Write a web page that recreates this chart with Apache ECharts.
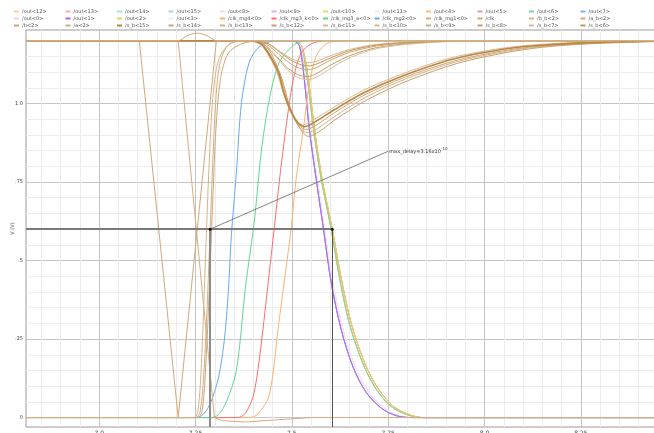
<!DOCTYPE html>
<html>
<head>
<meta charset="utf-8">
<script src="https://cdn.jsdelivr.net/npm/echarts@6/dist/echarts.min.js"></script>
<style>
html, body { margin: 0; padding: 0; background: #fff; }
#chart { width: 654px; height: 433px; }
</style>
</head>
<body>
<div id="chart"></div>
<script>
// legend rows (12 per row)
var row1Names = ['/out<12>', '/out<13>', '/out<14>', '/out<15>', '/out<8>', '/out<9>', '/out<10>', '/out<11>', '/out<4>', '/out<5>', '/out<6>', '/out<7>'];
var row2Names = ['/out<0>', '/out<1>', '/out<2>', '/out<3>', '/clk_mg4<0>', '/clk_mg3_k<0>', '/clk_mg3_a<0>', '/clk_mg2<0>', '/clk_mg1<0>', '/clk', '/b_b<2>', '/a_b<2>'];
var row3Names = ['/b<2>', '/a<2>', '/s_b<15>', '/s_b<14>', '/s_b<13>', '/s_b<12>', '/s_b<11>', '/s_b<10>', '/s_b<9>', '/s_b<8>', '/s_b<7>', '/s_b<6>'];

// waveforms [time (ns), volts]
var clkWave = [[6.81, 1.2], [7.104, 1.2], [7.205, 0], [7.304, 1.2], [8.445, 1.2]];
var clkMg1Wave = [[6.81, 1.2], [7.205, 1.2], [7.299, 0], [7.32, -0.01], [7.38, -0.014], [7.45, -0.008], [7.55, 0], [8.445, 0]];
var humpWave = [[6.81, 1.2], [7.205, 1.2], [7.228, 1.216], [7.255, 1.224], [7.282, 1.215], [7.304, 1.2], [8.445, 1.2]];
var riseA = [[6.81, 0], [7.25, 0], [7.262, 0.02], [7.272, 0.15], [7.28, 0.35], [7.288, 0.6], [7.295, 0.82], [7.302, 1.0], [7.312, 1.12], [7.33, 1.18], [7.36, 1.2], [8.445, 1.2]];
var riseB = [[6.81, 0], [7.255, 0], [7.268, 0.03], [7.278, 0.2], [7.287, 0.45], [7.295, 0.7], [7.303, 0.92], [7.315, 1.08], [7.335, 1.16], [7.37, 1.19], [7.42, 1.2], [8.445, 1.2]];
var riseC = [[6.81, 0], [7.245, 0], [7.258, 0.04], [7.268, 0.25], [7.277, 0.55], [7.285, 0.8], [7.295, 1.02], [7.31, 1.14], [7.34, 1.19], [7.4, 1.2], [8.445, 1.2]];

var mg2Wave = [[6.81, 0], [7.25, 0], [7.27, 0.01], [7.29, 0.05], [7.31, 0.13], [7.325, 0.25], [7.335, 0.4], [7.343, 0.58], [7.356, 0.78], [7.369, 1.0], [7.389, 1.13], [7.415, 1.18], [7.46, 1.2], [8.445, 1.2]];
var mg3aWave = [[6.81, 0], [7.29, 0], [7.31, 0.01], [7.33, 0.05], [7.356, 0.15], [7.38, 0.42], [7.402, 0.62], [7.421, 0.85], [7.441, 1.01], [7.467, 1.13], [7.504, 1.185], [7.54, 1.2], [8.445, 1.2]];
var mg3kWave = [[6.81, 0], [7.36, 0], [7.38, 0.015], [7.40, 0.07], [7.415, 0.18], [7.434, 0.38], [7.454, 0.6], [7.472, 0.8], [7.491, 0.98], [7.506, 1.09], [7.524, 1.16], [7.55, 1.19], [7.59, 1.2], [8.445, 1.2]];
var mg4Wave = [[6.81, 0], [7.39, 0], [7.41, 0.01], [7.441, 0.07], [7.465, 0.29], [7.482, 0.45], [7.498, 0.6], [7.511, 0.76], [7.53, 0.92], [7.545, 1.06], [7.563, 1.15], [7.589, 1.19], [7.63, 1.2], [8.445, 1.2]];

var fallA = [[6.81, 1.2], [7.50, 1.2], [7.519, 1.185], [7.532, 1.08], [7.545, 0.92], [7.563, 0.76], [7.582, 0.6], [7.602, 0.43], [7.628, 0.28], [7.659, 0.16], [7.693, 0.08], [7.732, 0.03], [7.771, 0.006], [7.81, 0], [8.445, 0]];
var fallA2 = [[6.81, 1.2], [7.503, 1.2], [7.522, 1.183], [7.535, 1.075], [7.548, 0.915], [7.566, 0.755], [7.585, 0.6], [7.606, 0.43], [7.633, 0.28], [7.665, 0.16], [7.70, 0.08], [7.74, 0.03], [7.778, 0.006], [7.815, 0], [8.445, 0]];
var fallB = [[6.81, 1.2], [7.505, 1.2], [7.524, 1.18], [7.540, 1.08], [7.556, 0.92], [7.576, 0.76], [7.602, 0.6], [7.623, 0.45], [7.649, 0.3], [7.685, 0.17], [7.719, 0.09], [7.758, 0.035], [7.797, 0.01], [7.836, 0], [8.445, 0]];
var fallB2 = [[6.81, 1.2], [7.508, 1.2], [7.527, 1.178], [7.543, 1.075], [7.559, 0.915], [7.579, 0.755], [7.605, 0.6], [7.627, 0.45], [7.654, 0.3], [7.69, 0.17], [7.725, 0.09], [7.764, 0.035], [7.803, 0.01], [7.84, 0], [8.445, 0]];

var deep1 = [[6.81, 1.2], [7.39, 1.2], [7.42, 1.19], [7.439, 1.16], [7.465, 1.10], [7.48, 1.03], [7.498, 0.975], [7.515, 0.94], [7.532, 0.926], [7.558, 0.94], [7.61, 0.98], [7.688, 1.035], [7.784, 1.086], [7.914, 1.14], [8.044, 1.172], [8.129, 1.184], [8.251, 1.193], [8.445, 1.199]];
var deep2 = [[6.81, 1.2], [7.39, 1.2], [7.42, 1.188], [7.44, 1.155], [7.465, 1.09], [7.482, 1.02], [7.50, 0.965], [7.518, 0.93], [7.536, 0.917], [7.562, 0.93], [7.61, 0.97], [7.69, 1.028], [7.79, 1.082], [7.92, 1.135], [8.05, 1.168], [8.14, 1.182], [8.26, 1.192], [8.445, 1.198]];
var deep3 = [[6.81, 1.2], [7.395, 1.2], [7.425, 1.187], [7.445, 1.152], [7.47, 1.085], [7.488, 1.01], [7.505, 0.955], [7.522, 0.92], [7.54, 0.907], [7.566, 0.92], [7.615, 0.962], [7.695, 1.022], [7.795, 1.078], [7.925, 1.132], [8.055, 1.166], [8.145, 1.181], [8.265, 1.191], [8.445, 1.198]];
var deep4 = [[6.81, 1.2], [7.40, 1.2], [7.43, 1.186], [7.45, 1.15], [7.474, 1.08], [7.492, 1.0], [7.51, 0.945], [7.527, 0.91], [7.543, 0.895], [7.57, 0.91], [7.62, 0.955], [7.70, 1.015], [7.80, 1.072], [7.93, 1.128], [8.06, 1.163], [8.15, 1.179], [8.27, 1.19], [8.445, 1.197]];
var deep5 = [[6.81, 1.2], [7.385, 1.2], [7.415, 1.19], [7.435, 1.162], [7.46, 1.105], [7.476, 1.04], [7.494, 0.98], [7.512, 0.945], [7.528, 0.932], [7.552, 0.945], [7.605, 0.985], [7.682, 1.04], [7.778, 1.09], [7.905, 1.143], [8.035, 1.174], [8.12, 1.186], [8.24, 1.194], [8.445, 1.2]];

var shallow1 = [[6.81, 1.2], [7.41, 1.2], [7.44, 1.19], [7.47, 1.165], [7.50, 1.142], [7.525, 1.132], [7.545, 1.13], [7.565, 1.135], [7.60, 1.152], [7.65, 1.172], [7.72, 1.188], [7.82, 1.196], [7.96, 1.2], [8.445, 1.2]];
var shallow2 = [[6.81, 1.2], [7.405, 1.2], [7.435, 1.188], [7.465, 1.158], [7.495, 1.128], [7.52, 1.112], [7.542, 1.108], [7.565, 1.115], [7.60, 1.138], [7.65, 1.163], [7.72, 1.183], [7.82, 1.194], [7.97, 1.2], [8.445, 1.2]];
var shallow3 = [[6.81, 1.2], [7.40, 1.2], [7.43, 1.186], [7.46, 1.15], [7.49, 1.112], [7.515, 1.092], [7.54, 1.086], [7.562, 1.094], [7.60, 1.122], [7.65, 1.152], [7.72, 1.178], [7.83, 1.193], [7.98, 1.2], [8.445, 1.2]];
var shallow4 = [[6.81, 1.2], [7.40, 1.2], [7.43, 1.185], [7.46, 1.147], [7.49, 1.105], [7.515, 1.083], [7.542, 1.076], [7.565, 1.085], [7.605, 1.115], [7.655, 1.148], [7.725, 1.176], [7.835, 1.192], [7.99, 1.2], [8.445, 1.2]];
var shallow5 = [[6.81, 1.2], [7.41, 1.2], [7.44, 1.189], [7.47, 1.162], [7.50, 1.136], [7.525, 1.123], [7.545, 1.12], [7.565, 1.126], [7.60, 1.145], [7.65, 1.168], [7.72, 1.186], [7.82, 1.195], [7.96, 1.2], [8.445, 1.2]];

// delay measurement: 50% of clk edge -> 50% of slowest output
var delayStart = [7.288, 0.6];
var delayEnd = [7.605, 0.6];
var delayLabelAt = [7.75, 0.848];

var chart = echarts.init(document.getElementById('chart'), null, {renderer: 'canvas'});

function wave(name, data, color, width, smooth) {
    return {
        name: name,
        type: 'line',
        data: data,
        showSymbol: false,
        symbol: 'none',
        smooth: smooth ? 0.3 : false,
        lineStyle: {color: color, width: width},
        itemStyle: {color: color},
        emphasis: {disabled: true},
        silent: true,
        animation: false
    };
}

// outputs first, then clock merges, tan signals on top
var series = [
    wave('/out<12>', fallB, '#ffcf9e', 1, true),
    wave('/out<13>', fallB2, '#ffaaaa', 1, true),
    wave('/out<14>', fallB, '#a6eac0', 1, true),
    wave('/out<10>', fallB2, '#ecd85a', 1, true),
    wave('/out<4>', fallB, '#ffb778', 1, true),
    wave('/out<5>', fallB2, '#ff8f8f', 1, true),
    wave('/out<6>', fallB, '#78dca2', 1, true),
    wave('/out<2>', fallB2, '#e6d062', 1, true),
    wave('/out<8>', fallA2, '#ffd3ea', 1, true),
    wave('/out<11>', fallA2, '#ecebf8', 1, true),
    wave('/out<0>', fallA2, '#ffc8e6', 1, true),
    wave('/out<3>', fallA2, '#f0ecf8', 1, true),
    wave('/out<15>', fallA, '#a9cffc', 1, true),
    wave('/out<7>', fallA, '#7ab5fb', 1, true),
    wave('/out<9>', fallA, '#d9aef2', 1, true),
    wave('/out<1>', fallA, '#a868e6', 1, true),
    wave('/clk_mg4<0>', mg4Wave, '#ffb070', 1, true),
    wave('/clk_mg3_k<0>', mg3kWave, '#ff6b6b', 1, true),
    wave('/clk_mg3_a<0>', mg3aWave, '#5fd693', 1, true),
    wave('/clk_mg2<0>', mg2Wave, '#66a8f8', 1, true),
    wave('/s_b<10>', shallow1, '#d6b68e', 1, true),
    wave('/s_b<9>', shallow2, '#cfa878', 1, true),
    wave('/s_b<8>', shallow3, '#c89c64', 1, true),
    wave('/s_b<7>', shallow4, '#dbbd98', 1, true),
    wave('/s_b<6>', shallow5, '#c49658', 1, true),
    wave('/s_b<14>', deep2, '#cda473', 1, true),
    wave('/s_b<13>', deep3, '#d4b187', 1, true),
    wave('/s_b<12>', deep4, '#c99e68', 1, true),
    wave('/s_b<11>', deep5, '#d8b992', 1, true),
    wave('/s_b<15>', deep1, '#b78640', 1.6, true),
    wave('/clk', clkWave, '#cfa878', 1, false),
    wave('/clk_mg1<0>', clkMg1Wave, '#d3ad80', 1, false),
    wave('/a_b<2>', humpWave, '#d1ab7c', 1, true),
    wave('/a<2>', riseA, '#d2ad80', 1, true),
    wave('/b<2>', riseB, '#cfa672', 1, true),
    wave('/b_b<2>', riseC, '#d6b48a', 1, true)
];

series.push({
    name: 'delay',
    type: 'line',
    data: [delayStart],
    showSymbol: false,
    symbol: 'none',
    lineStyle: {width: 0},
    silent: true,
    animation: false,
    z: 10,
    markLine: {
        silent: true,
        animation: false,
        symbol: ['none', 'none'],
        label: {show: false},
        data: [
            [{coord: [6.81, delayStart[1]], lineStyle: {color: '#7a7a7a', width: 2, type: 'solid'}}, {coord: delayEnd}],
            [{coord: delayStart, lineStyle: {color: '#8c8c8c', width: 2, type: 'solid'}}, {coord: [delayStart[0], -0.03]}],
            [{coord: delayEnd, lineStyle: {color: '#555', width: 1, type: 'solid'}}, {coord: [delayEnd[0], -0.03]}],
            [{coord: delayStart, lineStyle: {color: '#666', width: 0.8, type: 'solid'}}, {coord: delayLabelAt}]
        ]
    },
    markPoint: {
        silent: true,
        animation: false,
        data: [
            {coord: delayStart, symbol: 'circle', symbolSize: 3, itemStyle: {color: '#111'}, label: {show: false}},
            {coord: delayEnd, symbol: 'circle', symbolSize: 3, itemStyle: {color: '#111'}, label: {show: false}},
            {
                coord: delayLabelAt, symbol: 'circle', symbolSize: 0.1, itemStyle: {color: 'rgba(0,0,0,0)'},
                label: {
                    show: true, position: 'right', distance: 1,
                    formatter: '{a|max_delay=3.16x10}{b|-10}',
                    rich: {
                        a: {fontSize: 5, color: '#333', fontFamily: 'DejaVu Sans', lineHeight: 8},
                        b: {fontSize: 4, color: '#333', fontFamily: 'DejaVu Sans', verticalAlign: 'top', lineHeight: 8}
                    }
                }
            }
        ]
    }
});

// legend: one component per entry so columns line up like the viewer
var allNames = row1Names.concat(row2Names, row3Names);
var legends = allNames.map(function (n, i) {
    return {
        data: [n],
        left: 14 + 51.5 * (i % 12),
        top: 9 + 7 * Math.floor(i / 12),
        padding: 0,
        itemGap: 0,
        icon: 'rect',
        itemWidth: 5,
        itemHeight: 2,
        selectedMode: false,
        textStyle: {fontSize: 5, color: '#555', fontFamily: 'DejaVu Sans', padding: [0, 0, 0, -2]}
    };
});

// grid line colours cycle over 0.01 steps: major every 0.25, minor every 0.05
var xGridColors = [], yGridColors = [];
for (var i = 0; i < 25; i++) {
    xGridColors.push(i === 19 ? '#c4c4c4' : (i % 5 === 4 ? '#ececec' : 'rgba(0,0,0,0)'));
    yGridColors.push(i === 3 ? '#c4c4c4' : (i % 5 === 3 ? '#ececec' : 'rgba(0,0,0,0)'));
}

var option = {
    backgroundColor: '#fff',
    animation: false,
    legend: legends,
    grid: {
        left: 26, top: 30, right: -2, bottom: 6,
        outerBoundsMode: 'none', containLabel: false,
        show: true, borderColor: '#9a9a9a', borderWidth: 1, backgroundColor: '#fff'
    },
    xAxis: {
        type: 'value',
        min: 6.81,
        max: 8.445,
        interval: 0.01,
        axisLine: {show: false},
        axisTick: {show: false},
        splitLine: {show: true, lineStyle: {color: xGridColors, width: 1}},
        axisLabel: {
            fontSize: 6, color: '#444', margin: 3, fontFamily: 'DejaVu Sans',
            formatter: function (v) {
                var r = Math.round(v * 100);
                if (r % 25 !== 0) return '';
                return r % 100 === 0 ? (r / 100).toFixed(1) : String(r / 100);
            }
        }
    },
    yAxis: {
        type: 'value',
        min: -0.03,
        max: 1.234,
        interval: 0.01,
        name: 'V (V)',
        nameLocation: 'middle',
        nameGap: 11,
        nameMoveOverlap: false,
        nameRotate: 90,
        nameTextStyle: {fontSize: 5, color: '#444', fontFamily: 'DejaVu Sans'},
        axisLine: {show: false},
        axisTick: {show: false},
        splitLine: {show: true, lineStyle: {color: yGridColors, width: 1}},
        axisLabel: {
            fontSize: 5, color: '#444', margin: 3, fontFamily: 'DejaVu Sans',
            formatter: function (v) {
                var r = Math.round(v * 100);
                var names = {0: '0', 25: '.25', 50: '.5', 75: '.75', 100: '1.0'};
                return names[r] !== undefined ? names[r] : '';
            }
        }
    },
    series: series
};

chart.setOption(option);
</script>
</body>
</html>
